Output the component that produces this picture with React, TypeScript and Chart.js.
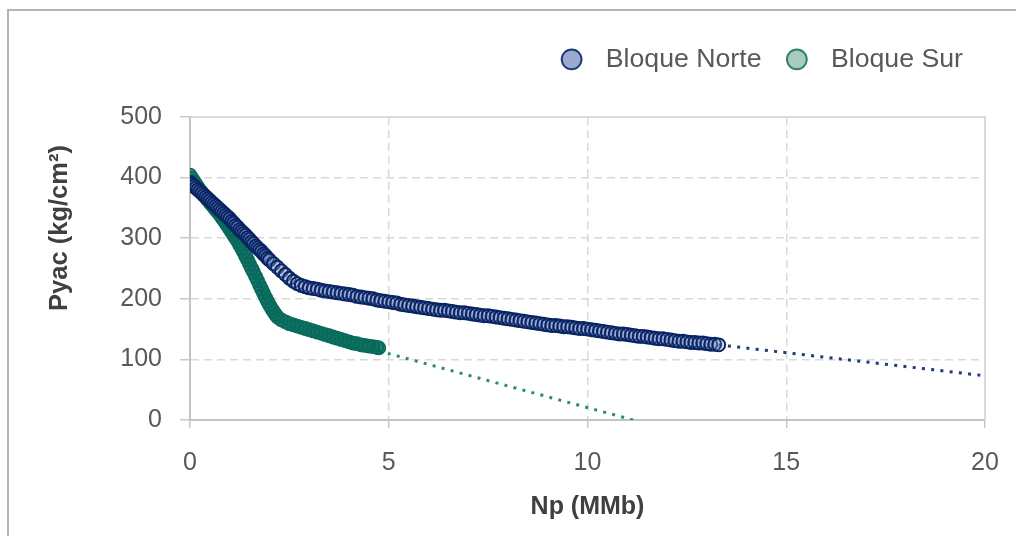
import React, { useEffect, useRef } from 'react';
import { Chart, registerables } from 'chart.js';

Chart.register(...registerables);

// ---- data ----
const seriesNames = ['Bloque Norte', 'Bloque Sur'];
const xTitle = 'Np (MMb)';
const yTitle = 'Pyac (kg/cm²)';
const xTicks = [0, 5, 10, 15, 20];
const yTicks = [0, 100, 200, 300, 400, 500];

const norteNp = [
  0.0, 0.05, 0.1, 0.15, 0.2, 0.25, 0.3, 0.35, 0.4, 0.45,
  0.5, 0.55, 0.6, 0.65, 0.7, 0.75, 0.8, 0.85, 0.9, 0.95,
  1.0, 1.05, 1.1, 1.15, 1.2, 1.25, 1.3, 1.35, 1.4, 1.45,
  1.5, 1.55, 1.6, 1.65, 1.7, 1.75, 1.8, 1.85, 1.9, 1.95,
  2.0, 2.1, 2.2, 2.3, 2.4, 2.5, 2.6, 2.7, 2.8, 2.9,
  3.0, 3.1, 3.2, 3.3, 3.4, 3.5, 3.6, 3.7, 3.8, 3.9,
  4.0, 4.1, 4.2, 4.3, 4.4, 4.5, 4.6, 4.7, 4.8, 4.9,
  5.0, 5.1, 5.2, 5.3, 5.4, 5.5, 5.6, 5.7, 5.8, 5.9,
  6.0, 6.1, 6.2, 6.3, 6.4, 6.5, 6.6, 6.7, 6.8, 6.9,
  7.0, 7.1, 7.2, 7.3, 7.4, 7.5, 7.6, 7.7, 7.8, 7.9,
  8.0, 8.1, 8.2, 8.3, 8.4, 8.5, 8.6, 8.7, 8.8, 8.9,
  9.0, 9.1, 9.2, 9.3, 9.4, 9.5, 9.6, 9.7, 9.8, 9.9,
  10.0, 10.1, 10.2, 10.3, 10.4, 10.5, 10.6, 10.7, 10.8, 10.9,
  11.0, 11.1, 11.2, 11.3, 11.4, 11.5, 11.6, 11.7, 11.8, 11.9,
  12.0, 12.1, 12.2, 12.3, 12.4, 12.5, 12.6, 12.7, 12.8, 12.9,
  13.0, 13.1, 13.2, 13.3,
];
const nortePyac = [
  392, 389, 386, 383, 380, 377, 374, 371, 368, 365,
  362, 359, 356, 353, 350, 347, 344, 341, 338, 335,
  332, 328, 325, 321, 318, 314, 311, 308, 305, 301,
  298, 294, 291, 287, 284, 281, 278, 274, 271, 267,
  264, 258, 252, 246, 240, 234, 229, 225, 222, 220,
  218, 217, 216, 214, 213, 212, 211, 210, 209, 208,
  207, 206, 204, 203, 202, 201, 200, 198, 197, 196,
  195, 194, 193, 191, 190, 189, 188, 187, 186, 185,
  184, 183, 182, 181, 181, 180, 179, 178, 177, 177,
  176, 175, 174, 173, 172, 172, 171, 170, 169, 168,
  167, 166, 165, 164, 163, 162, 161, 160, 159, 158,
  157, 156, 156, 155, 154, 154, 153, 152, 151, 151,
  150, 149, 148, 147, 146, 145, 144, 143, 142, 142,
  141, 140, 139, 138, 138, 137, 136, 135, 134, 134,
  133, 132, 131, 130, 130, 129, 128, 128, 127, 127,
  126, 125, 125, 124,
];

const surNp = [
  0.0, 0.05, 0.1, 0.15, 0.2, 0.25, 0.3, 0.35, 0.4, 0.45,
  0.5, 0.55, 0.6, 0.65, 0.7, 0.75, 0.8, 0.85, 0.9, 0.95,
  1.0, 1.05, 1.1, 1.15, 1.2, 1.25, 1.3, 1.35, 1.4, 1.45,
  1.5, 1.55, 1.6, 1.65, 1.7, 1.75, 1.8, 1.85, 1.9, 1.95,
  2.0, 2.05, 2.1, 2.15, 2.2, 2.3, 2.4, 2.5, 2.6, 2.7,
  2.8, 2.9, 3.0, 3.1, 3.2, 3.3, 3.4, 3.5, 3.6, 3.7,
  3.8, 3.9, 4.0, 4.1, 4.2, 4.3, 4.4, 4.5, 4.6, 4.7,
  4.75,
];
const surPyac = [
  404, 399, 394, 389, 384, 379, 375, 371, 367, 363,
  359, 355, 351, 347, 343, 339, 334, 330, 325, 320,
  315, 310, 305, 300, 295, 289, 283, 277, 270, 264,
  257, 250, 244, 237, 230, 223, 216, 209, 202, 196,
  190, 184, 179, 174, 170, 165, 162, 159, 157, 155,
  153, 151, 149, 147, 145, 143, 141, 139, 137, 135,
  133, 131, 129, 127, 126, 124, 123, 122, 121, 120,
  119,
];

const norteTrendNp = [13.3, 20];
const norteTrendPyac = [124, 73];
const surTrendNp = [4.75, 11.15];
const surTrendPyac = [114, 0];

// ---- styles ----
const FONT = '"Liberation Sans", Arial, sans-serif';
const NAVY = '#082463';
const TEAL = '#0a6a5b';
const legendFill = ['#9aaad0', '#a8cbc0'];
const legendStroke = ['#1f3a78', '#2e8068'];

const toPoints = (xs: number[], ys: number[]) => xs.map((x, i) => ({ x, y: ys[i] }));

const legendHeightPlugin = {
  id: 'legendHeight',
  beforeInit(chart: any) {
    const legend = chart.legend;
    if (!legend) return;
    const orig = legend.fit;
    legend.fit = function () {
      orig.call(this);
      this.height = 93;
    };
  },
};

const frameLinesPlugin = {
  id: 'frameLines',
  beforeDatasetsDraw(chart: any) {
    const { ctx, chartArea } = chart;
    ctx.save();
    ctx.strokeStyle = '#d9d9d9';
    ctx.lineWidth = 2;
    ctx.beginPath();
    ctx.moveTo(chartArea.left, chartArea.top);
    ctx.lineTo(chartArea.right, chartArea.top);
    ctx.lineTo(chartArea.right, chartArea.bottom);
    ctx.stroke();
    ctx.restore();
  },
};

const yTitlePlugin = {
  id: 'yTitle',
  afterDraw(chart: any) {
    const ctx = chart.ctx;
    ctx.save();
    ctx.translate(60, 228);
    ctx.rotate(-Math.PI / 2);
    ctx.font = `bold 25.5px ${FONT}`;
    ctx.fillStyle = '#404040';
    ctx.textAlign = 'center';
    ctx.textBaseline = 'middle';
    ctx.fillText(yTitle, 0, 0);
    ctx.restore();
  },
};

export default function App() {
  const canvasRef = useRef<HTMLCanvasElement | null>(null);

  useEffect(() => {
    if (!canvasRef.current) return;
    const chart = new Chart(canvasRef.current, {
      type: 'scatter',
      data: {
        datasets: [
          {
            label: seriesNames[0],
            data: toPoints(norteNp, nortePyac),
            pointRadius: 6.5,
            pointBorderWidth: 1.9,
            borderColor: NAVY,
            backgroundColor: 'rgba(110,130,190,0.3)',
          },
          {
            label: seriesNames[1],
            data: toPoints(surNp, surPyac),
            pointRadius: 6.5,
            pointBorderWidth: 1.8,
            borderColor: TEAL,
            backgroundColor: 'rgba(0,105,90,0.6)',
          },
          {
            label: 'trendNorte',
            type: 'line',
            data: toPoints(norteTrendNp, norteTrendPyac),
            pointRadius: 0,
            borderColor: '#1f3b7a',
            borderWidth: 3,
            borderDash: [3, 6.3],
            fill: false,
          } as any,
          {
            label: 'trendSur',
            type: 'line',
            data: toPoints(surTrendNp, surTrendPyac),
            pointRadius: 0,
            borderColor: '#2e8a74',
            borderWidth: 3,
            borderDash: [3, 6.3],
            fill: false,
          } as any,
        ],
      },
      options: {
        animation: false,
        responsive: false,
        devicePixelRatio: 1,
        layout: { padding: { left: 120, right: 31, top: 24, bottom: 14 } },
        plugins: {
          tooltip: { enabled: false },
          legend: {
            position: 'top',
            align: 'end',
            labels: {
              usePointStyle: true,
              boxHeight: 14,
              padding: 22,
              color: '#595959',
              font: { family: FONT, size: 26.7 },
              generateLabels: () =>
                seriesNames.map((name, i) => ({
                  text: ' ' + name,
                  fillStyle: legendFill[i],
                  strokeStyle: legendStroke[i],
                  lineWidth: 2,
                  pointStyle: 'circle',
                  hidden: false,
                  datasetIndex: i,
                  fontColor: '#595959',
                })),
            },
          },
        },
        scales: {
          x: {
            type: 'linear',
            min: 0,
            max: 20,
            afterBuildTicks: (s: any) => {
              s.ticks = xTicks.map((v) => ({ value: v }));
            },
            afterFit: (s: any) => {
              s.paddingRight = 0;
              s.paddingLeft = 0;
            },
            grid: {
              color: '#d9d9d9',
              lineWidth: 1.5,
              tickLength: 8,
              tickColor: '#c8c8c8',
              tickBorderDash: [],
            },
            border: { display: true, color: '#c4c4c4', width: 2, dash: [8, 5] },
            ticks: {
              color: '#595959',
              padding: 20,
              font: { family: FONT, size: 25 },
              maxRotation: 0,
            },
            title: {
              display: true,
              text: xTitle,
              color: '#404040',
              font: { family: FONT, size: 25, weight: 'bold' },
              padding: { top: -6, bottom: 0 },
            },
          },
          y: {
            type: 'linear',
            min: 0,
            max: 500,
            afterBuildTicks: (s: any) => {
              s.ticks = yTicks.map((v) => ({ value: v }));
            },
            afterFit: (s: any) => {
              s.width = 70;
            },
            grid: {
              color: '#d9d9d9',
              lineWidth: 1.5,
              tickLength: 10,
              tickColor: '#c8c8c8',
              tickBorderDash: [],
            },
            border: { display: true, color: '#c4c4c4', width: 2, dash: [8, 5] },
            ticks: {
              color: '#595959',
              padding: 18,
              font: { family: FONT, size: 25 },
            },
          },
        },
      },
      plugins: [legendHeightPlugin, frameLinesPlugin, yTitlePlugin],
    } as any);
    return () => chart.destroy();
  }, []);

  return (
    <div style={{ position: 'fixed', left: 0, top: 0, width: 1016, height: 536, overflow: 'hidden', background: '#fff' }}>
      <div
        style={{
          position: 'absolute',
          left: 7,
          top: 9,
          width: 1100,
          height: 700,
          border: '2px solid #b4b4b4',
          boxSizing: 'border-box',
        }}
      />
      <canvas
        ref={canvasRef}
        width={1016}
        height={536}
        style={{ position: 'absolute', left: 0, top: 0, width: 1016, height: 536 }}
      />
    </div>
  );
}
